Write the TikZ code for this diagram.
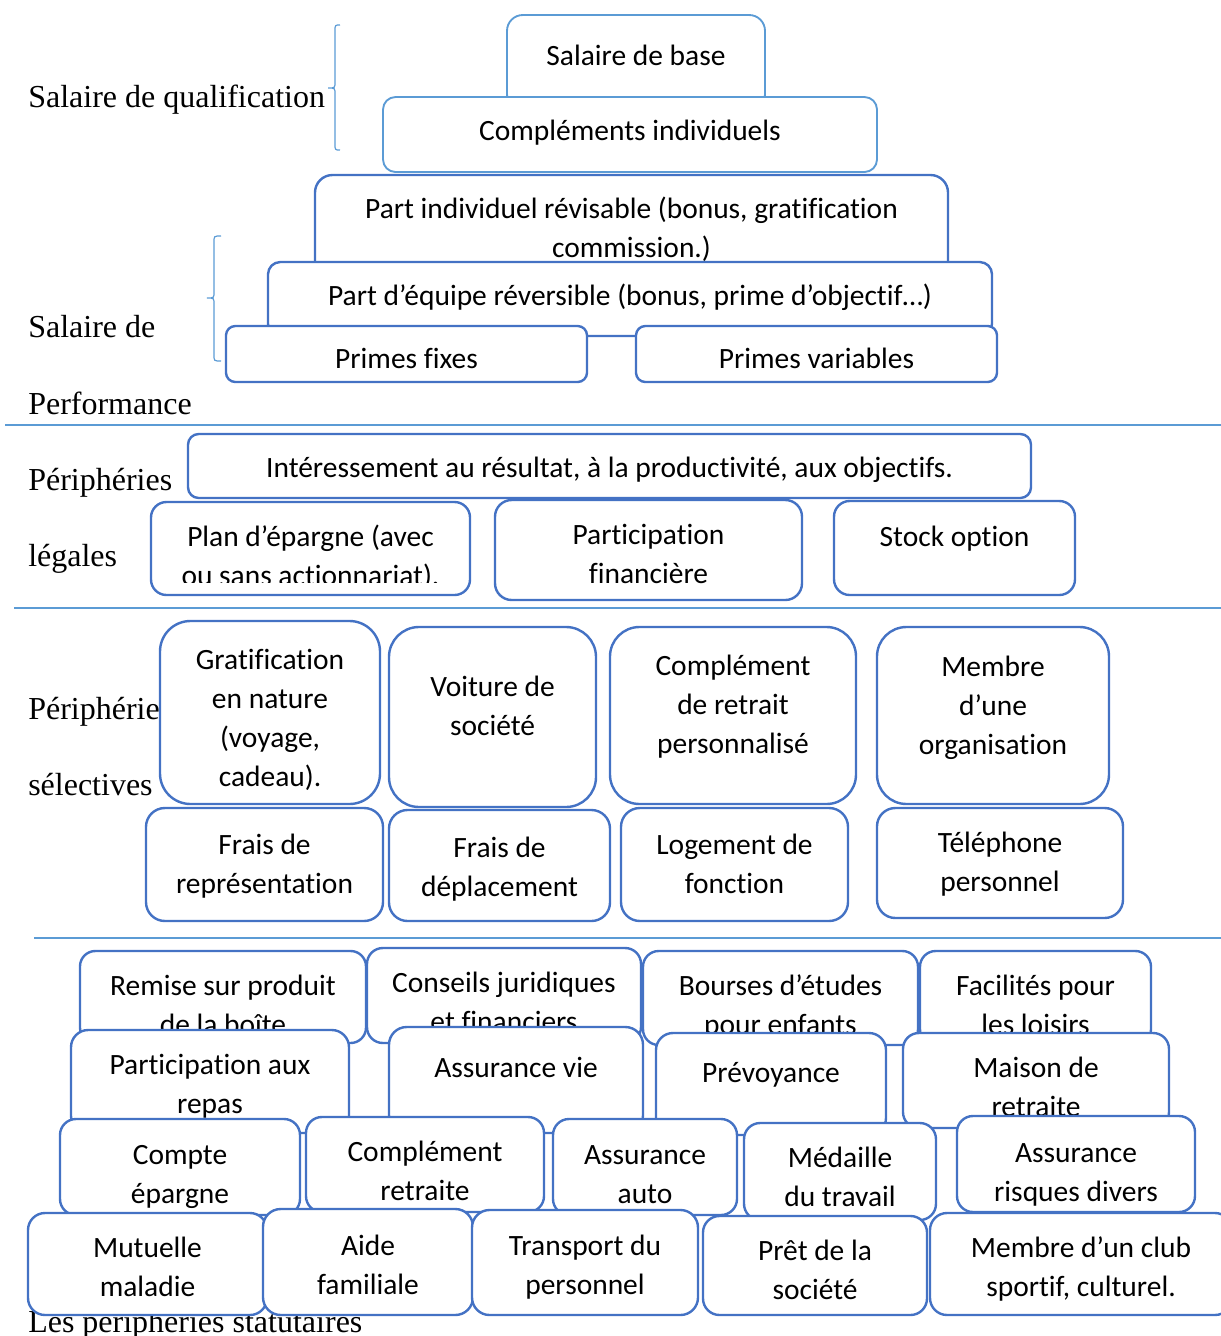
\documentclass[tikz,border=0pt]{standalone}
\usepackage{fontspec}
\setmainfont{Liberation Serif}
\newfontfamily\carl[Ligatures=NoCommon]{Carlito}
\usetikzlibrary{fit}
\definecolor{boxblue}{HTML}{4472C4}
\definecolor{lightblue}{HTML}{5B9BD5}
\tikzset{
 dbox/.style={draw=boxblue, line width=1.8pt, fill=white, inner sep=0pt},
 lbox/.style={draw=lightblue, line width=1.4pt, fill=white, inner sep=0pt},
 txt/.style={anchor=base, align=center, inner sep=0pt, font=\carl\fontsize{22.1pt}{29.25pt}\selectfont},
 lab/.style={anchor=base west, inner sep=0pt, font=\fontsize{24pt}{28pt}\selectfont},
 sepline/.style={draw=lightblue, line width=1pt},
 brc/.style={draw=lightblue, line width=0.9pt},
}
% #1 name, #2 x1, #3 y1, #4 x2, #5 y2, #6 centre of first text line, #7 text, #8 style, #9 number of lines
\newcommand\bx[9]{%
  \pgfmathsetmacro\rr{min(#4-#2,#5-#3)/6*0.75}%
  \node[#8, rounded corners=\rr pt, fit={(#2,#3) (#4,#5)}] (#1) {};
  \node[txt] (#1t) at ({(#2+#4)/2},{#6+9.5+(#9-1)*39}) {#7};
}
\begin{document}
\begin{tikzpicture}[x=0.75pt,y=-0.75pt]
\useasboundingbox (0,0) rectangle (1221,1336);

% ---------- left labels ----------
\node[lab] (l1) at (28,107) {Salaire de qualification};
\node[lab] (l2) at (28,337) {Salaire de};
\node[lab] (l3) at (28,414) {Performance};
\node[lab] (l4) at (28,490) {Périphéries};
\node[lab] (l5) at (28,566) {légales};
\node[lab] (l7) at (28,1332) {Les périphéries statutaires};

% ---------- braces ----------
\draw[brc] (340,25) .. controls (335,25) .. (335,31) -- (335,82) .. controls (335,88) .. (328,88)
           .. controls (335,88) .. (335,94) -- (335,144) .. controls (335,150) .. (340,150);
\draw[brc] (221,236) .. controls (214,236) .. (214,242) -- (214,292) .. controls (214,298) .. (207,298)
           .. controls (214,298) .. (214,304) -- (214,355) .. controls (214,361) .. (221,361);

% ---------- separator lines ----------
\coordinate (s1a) at (5,425);  \coordinate (s1b) at (1221,425);
\coordinate (s2a) at (14,608); \coordinate (s2b) at (1221,608);
\coordinate (s3a) at (34,938); \coordinate (s3b) at (1221,938);
\draw[sepline] (s1a) -- (s1b);
\draw[sepline] (s2a) -- (s2b);
\draw[sepline] (s3a) -- (s3b);

% ---------- top section ----------
\bx{sb}{507}{15}{765}{110}{56}{Salaire de base}{lbox}{1}
\bx{ci}{383}{97}{877}{172}{131}{Compléments individuels}{lbox}{1}
\bx{pir}{315}{175}{948}{280}{209}{Part individuel révisable (bonus, gratification\\commission.)}{dbox}{2}
\bx{per}{268}{262}{992}{336}{296}{Part d’équipe réversible (bonus, prime d’objectif…)}{dbox}{1}
\bx{pf}{226}{326}{587}{382}{359}{Primes fixes}{dbox}{1}
\bx{pv}{636}{326}{997}{382}{359}{Primes variables}{dbox}{1}

% ---------- périphéries légales ----------
\bx{int}{188}{434}{1031}{498}{468}{Intéressement au résultat, à la productivité, aux objectifs.}{dbox}{1}
\node[dbox, rounded corners=11.6pt, fit={(151,502) (470,595)}] (pe) {};
\begin{scope}
  \clip (151,502) rectangle (470,582);
  \node[txt] (pet) at (310.5,585.5) {Plan d’épargne (avec\\ou sans actionnariat).};
\end{scope}
\bx{pfin}{495}{500}{802}{600}{535}{Participation\\financière}{dbox}{2}
\bx{so}{834}{501}{1075}{595}{537}{Stock option}{dbox}{1}

% ---------- périphéries sélectives ----------
\bx{gn}{160}{621}{380}{804}{660}{Gratification\\en nature\\(voyage,\\cadeau).}{dbox}{4}
\node[lab] (l6) at (28,719) {Périphérie};
\node[lab] (l8) at (28,795) {sélectives};
\bx{vs}{389}{627}{596}{807}{687}{Voiture de\\société}{dbox}{2}
\bx{crp}{610}{627}{856}{804}{666}{Complément\\de retrait\\personnalisé}{dbox}{3}
\bx{mo}{877}{627}{1109}{804}{667}{Membre\\d’une\\organisation}{dbox}{3}
\bx{fr}{146}{808}{383}{921}{845}{Frais de\\représentation}{dbox}{2}
\bx{fd}{389}{810}{610}{921}{848}{Frais de\\déplacement}{dbox}{2}
\bx{lf}{621}{808}{848}{921}{845}{Logement de\\fonction}{dbox}{2}
\bx{tp}{877}{808}{1123}{918}{843}{Téléphone\\personnel}{dbox}{2}

% ---------- périphéries statutaires ----------
\bx{rp}{80}{951}{366}{1043}{986}{Remise sur produit\\de la boîte}{dbox}{2}
\bx{cj}{367}{948}{641}{1043}{983}{Conseils juridiques\\et financiers}{dbox}{2}
\bx{be}{643}{951}{918}{1045}{986}{Bourses d’études\\pour enfants}{dbox}{2}
\bx{fl}{920}{951}{1151}{1045}{986}{Facilités pour\\les loisirs}{dbox}{2}
\bx{par}{71}{1030}{349}{1133}{1065}{Participation aux\\repas}{dbox}{2}
\bx{av}{389}{1027}{643}{1133}{1068}{Assurance vie}{dbox}{1}
\bx{pr}{656}{1033}{886}{1135}{1073}{Prévoyance}{dbox}{1}
\bx{mr}{903}{1033}{1169}{1128}{1068}{Maison de\\retraite}{dbox}{2}
\bx{ce}{60}{1119}{300}{1215}{1155}{Compte\\épargne}{dbox}{2}
\bx{cr}{306}{1117}{544}{1212}{1152}{Complément\\retraite}{dbox}{2}
\bx{aa}{553}{1119}{737}{1215}{1155}{Assurance\\auto}{dbox}{2}
\bx{md}{744}{1123}{936}{1220}{1158}{Médaille\\du travail}{dbox}{2}
\bx{ar}{957}{1116}{1195}{1212}{1153}{Assurance\\risques divers}{dbox}{2}
\bx{mm}{28}{1213}{267}{1315}{1248}{Mutuelle\\maladie}{dbox}{2}
\bx{af}{263}{1209}{473}{1315}{1246}{Aide\\familiale}{dbox}{2}
\bx{tr}{472}{1210}{698}{1315}{1246}{Transport du\\personnel}{dbox}{2}
\bx{ps}{703}{1216}{927}{1315}{1251}{Prêt de la\\société}{dbox}{2}
\bx{mc}{930}{1213}{1232}{1315}{1248}{Membre d’un club\\sportif, culturel.}{dbox}{2}
\end{tikzpicture}
\end{document}
